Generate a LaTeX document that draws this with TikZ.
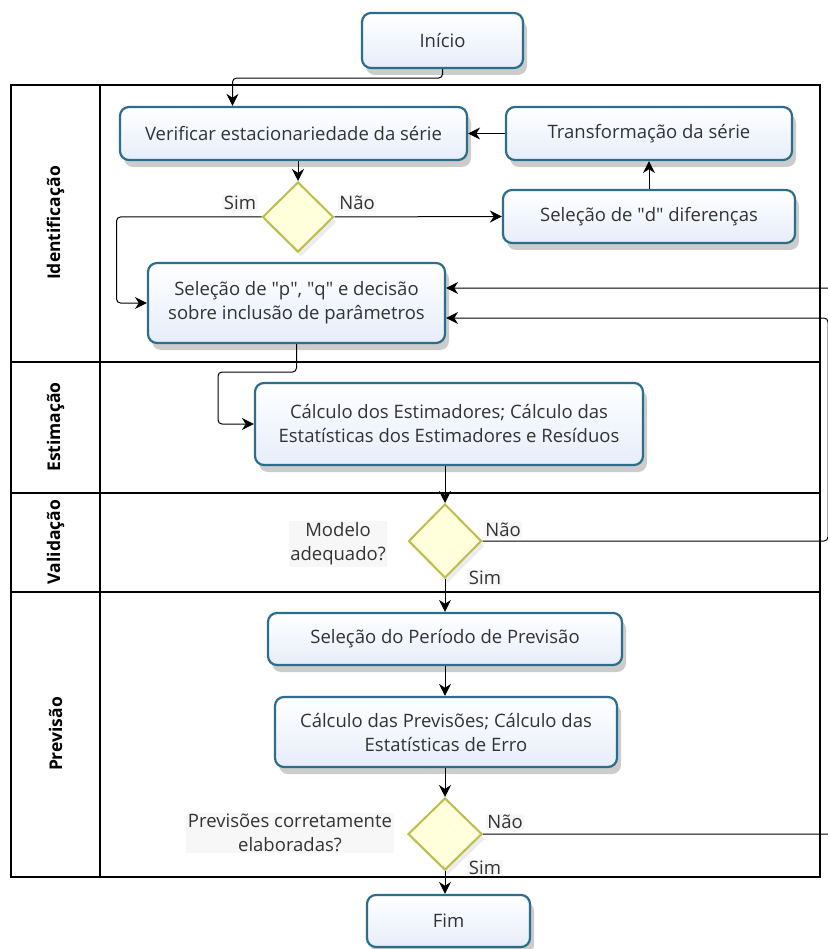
\documentclass[tikz,border=0pt]{standalone}
\usepackage{fontspec}
\setmainfont{Open Sans}
\usetikzlibrary{positioning,shapes.geometric,arrows.meta,shadows}
\usepackage{xcolor}
\definecolor{boxline}{HTML}{2C6D8B}
\definecolor{boxfill}{HTML}{E6EDFA}
\definecolor{gateline}{HTML}{BCBD4C}
\definecolor{gatefill}{HTML}{FFFFDC}
\definecolor{txt}{HTML}{333333}

\begin{document}
\begin{tikzpicture} [x=1pt, y=-1pt,
    font=\fontsize{18.5}{24}\selectfont,
    task/.style={draw=boxline,%
      line width=2.2pt,%
      rounded corners=9pt,%
      top color=white, bottom color=boxfill,%
      text=txt,%
      inner sep=0,%
      align=center,%
      drop shadow={shadow xshift=4pt, shadow yshift=-7pt, opacity=.4, fill=gray}},
    gate/.style={diamond,%
      draw=gateline,%
      line width=2pt,%
      fill=gatefill,%
      inner sep=0,
      drop shadow={shadow xshift=3pt, shadow yshift=-5pt, opacity=.15, fill=gray}},
    lbl/.style={text=txt, fill=black!3, inner sep=1.5pt, align=center},
    lane/.style={rotate=90, font=\fontsize{17.5}{20}\selectfont\bfseries},
    flow/.style={-{Stealth[length=12pt,width=12pt]}, line width=1pt, rounded corners=4pt}
    ]
    \useasboundingbox (0,0) rectangle (827,949);
    \draw[line width=1.2pt] (11,85) rectangle (820,877);
    \draw[line width=1.2pt] (100,85) -- (100,877);
    \foreach \y in {362,493,592}
      \draw[line width=1.2pt] (11,\y) -- (820,\y);
    \node[lane] (l1) at (55.5,223) {Identificação};
    \node[lane] (l2) at (55.5,427) {Estimação};
    \node[lane] (l3) at (55.5,542) {Validação};
    \node[lane] (l4) at (55.5,734) {Previsão};

    \node[task, minimum width=161pt, minimum height=55pt] (start) at (442.5,40.5) {Início};
    \node[task, minimum width=347pt, minimum height=53pt] (verif) at (293.5,133.5) {Verificar estacionariedade da série};
    \node[task, minimum width=286pt, minimum height=53pt] (transf) at (649,133.5) {Transformação da série};
    \node[gate, minimum width=71pt, minimum height=70pt] (g1) at (298,217) {};
    \node[task, minimum width=292pt, minimum height=53pt] (seld) at (649,216.5) {Seleção de \textquotedbl d\textquotedbl{} diferenças};
    \node[task, minimum width=297pt, minimum height=80pt] (selpq) at (296.5,303) {Seleção de \textquotedbl p\textquotedbl, \textquotedbl q\textquotedbl{} e decisão\\sobre inclusão de parâmetros};
    \node[task, minimum width=388pt, minimum height=82pt] (calcest) at (449,424) {Cálculo dos Estimadores; Cálculo das\\Estatísticas dos Estimadores e Resíduos};
    \node[gate, minimum width=73pt, minimum height=74pt] (g2) at (445,541) {};
    \node[task, minimum width=354pt, minimum height=52pt] (period) at (445,639) {Seleção do Período de Previsão};
    \node[task, minimum width=342pt, minimum height=70pt] (calcprev) at (446,732) {Cálculo das Previsões; Cálculo das\\Estatísticas de Erro};
    \node[gate, minimum width=74pt, minimum height=72pt] (g3) at (445,834) {};
    \node[task, minimum width=163pt, minimum height=52pt] (fim) at (448.5,921) {Fim};

    \node[lbl] (s1) at (240,203) {Sim};
    \node[lbl] (n1) at (357,203) {Não};
    \node[lbl] (q2) at (338,544) {Modelo\\adequado?};
    \node[lbl] (n2) at (503,530) {Não};
    \node[lbl] (s2) at (485,578) {Sim};
    \node[lbl] (q3) at (290,833) {Previsões corretamente\\elaboradas?};
    \node[lbl] (n3) at (505,822) {Não};
    \node[lbl] (s3) at (485,868) {Sim};

    \coordinate (bend1) at (218,372);
    \coordinate (back1) at (828,541);
    \coordinate (back2) at (840,834);

    \draw[flow] (start.south) -- ++(0,9) -| ([xshift=-61pt]verif.north);
    \draw[flow] (transf) -- (verif);
    \draw[flow] (verif.south -| g1.north) -- (g1.north);
    \draw[flow] (g1.east) -- (seld.west);
    \draw[flow] (seld.north) -- (transf.south);
    \draw[flow] (g1.west) -- ++(-145,0) |- (selpq.west);
    \draw[flow] (selpq.south) |- (bend1) |- (calcest.west);
    \draw[flow] (calcest.south -| g2.north) -- (g2.north);
    \draw[flow] (g2.south) -- (period.north);
    \draw[flow] (g2.east) -- (back1) |- ([yshift=-15pt]selpq.east);
    \draw[flow] (period.south -| g3.north) -- (calcprev.north -| g3.north);
    \draw[flow] (calcprev.south -| g3.north) -- (g3.north);
    \draw[flow] (g3.east) -- (back2) |- ([yshift=15pt]selpq.east);
    \draw[flow] (g3.south) -- (fim.north -| g3.south);
  \end{tikzpicture}
\end{document}
